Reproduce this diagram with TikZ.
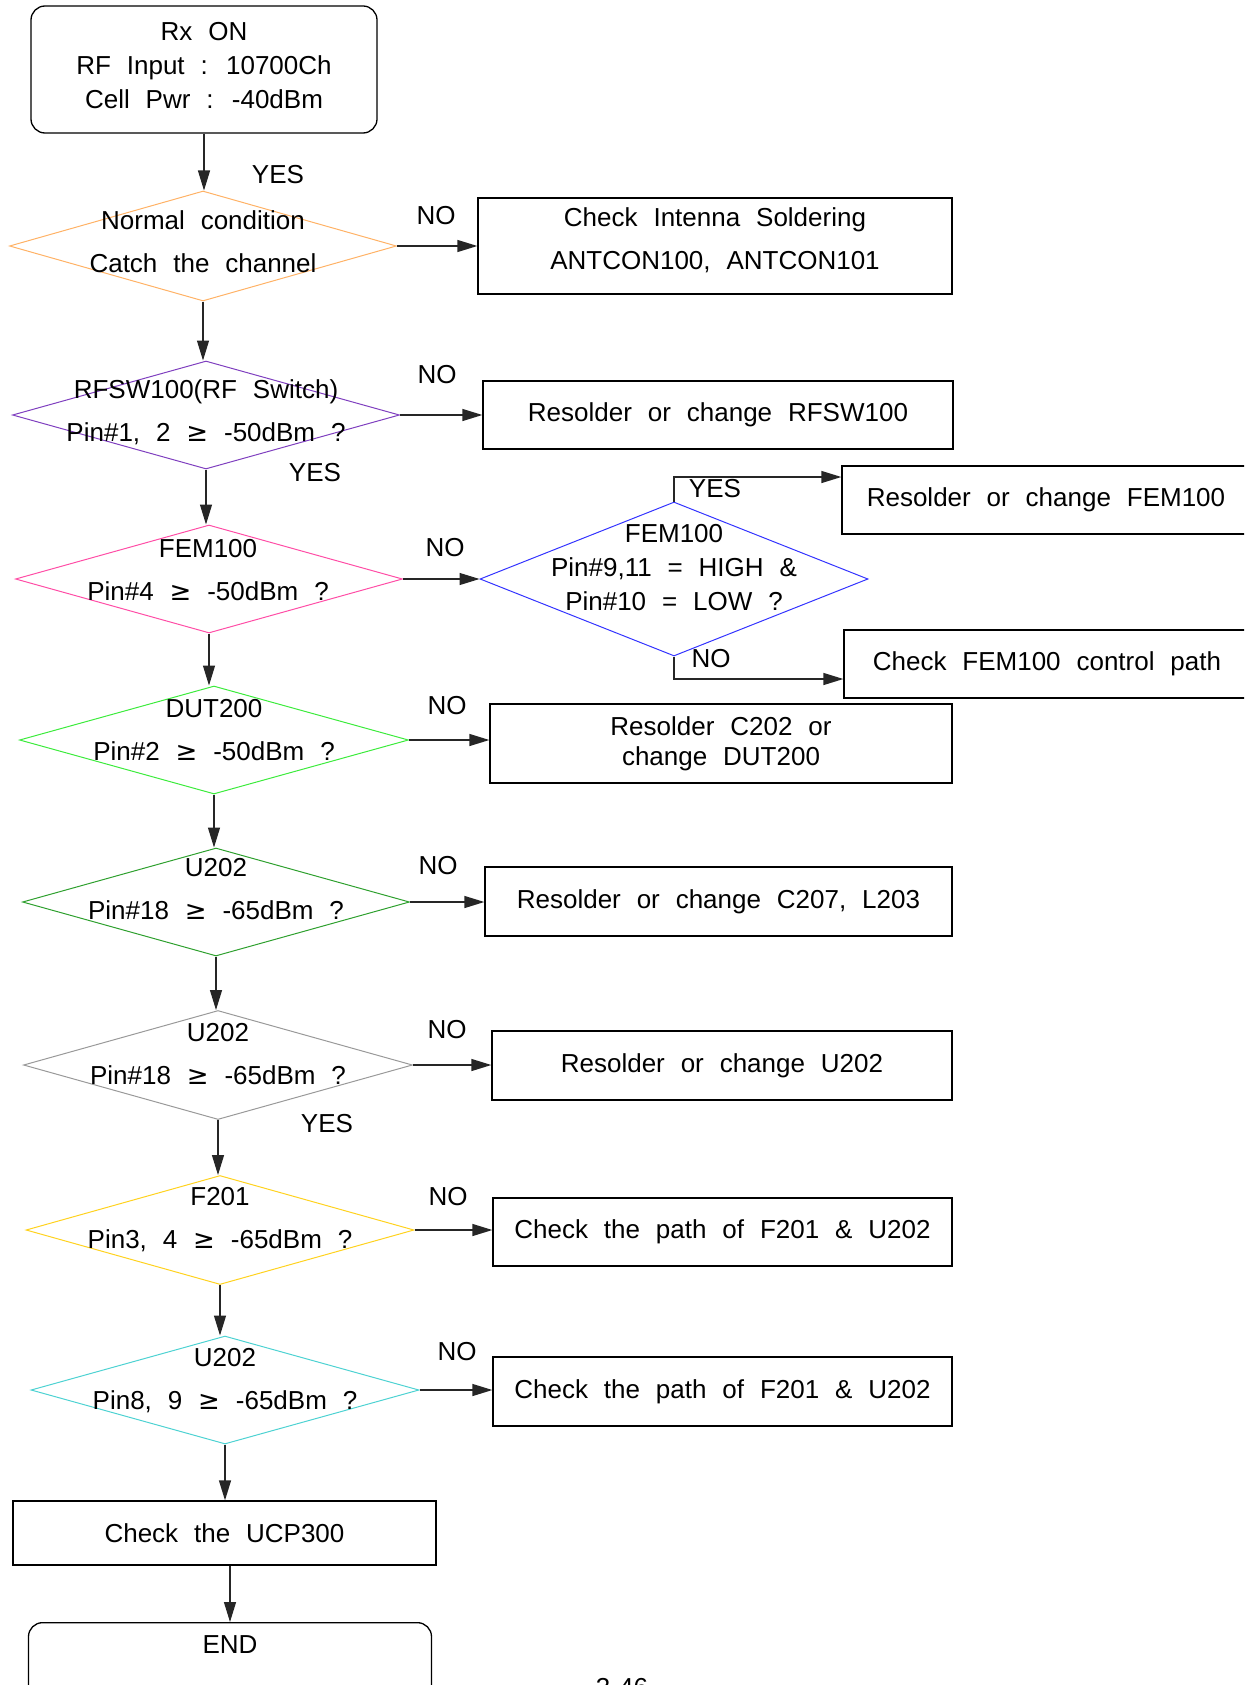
\documentclass[tikz,border=0pt]{standalone}
\usepackage{fontspec}
\setmainfont{Liberation Sans}[WordSpace=2.2]
\newfontfamily\symfont{DejaVu Sans}
\newcommand\gesign{{\symfont ≥}}
\usetikzlibrary{arrows.meta,shapes.geometric,calc}
\usepackage{xcolor}
\definecolor{dorange}{HTML}{FFB266}
\definecolor{dpurple}{HTML}{7F3FBF}
\definecolor{dpink}{HTML}{FF4DA6}
\definecolor{dblue}{HTML}{3333FF}
\definecolor{dlime}{HTML}{3CEB3C}
\definecolor{dgreen}{HTML}{2EA02E}
\definecolor{dgray}{HTML}{999999}
\definecolor{dyellow}{HTML}{FFD21F}
\definecolor{dcyan}{HTML}{4DD2D2}

\begin{document}
\begin{tikzpicture}[x=0.5pt, y=-0.5pt,
      txt/.style={font=\fontsize{13}{17}\selectfont, align=center, inner sep=0pt},
      wide/.style={font=\fontsize{13}{21.5}\selectfont},
      dia/.style={diamond, draw, line width=0.5pt, inner sep=0pt},
      chk/.style={draw, line width=0.65pt, font=\fontsize{13}{17}\selectfont, align=center},
      term/.style={chk, rounded corners=7pt},
      arr/.style={-{Triangle[length=10pt, width=6pt]}, line width=0.65pt, black!85}
    ]
      \useasboundingbox (0,0) rectangle (1244,1685);
      \clip (0,0) rectangle (1244,1685);

      % main column
      \node[term, minimum width=173pt, minimum height=63.5pt] (start) at (204,69.5) {};
      \node[txt] (startt) at (204,66) {Rx ON\\RF Input : 10700Ch\\Cell Pwr : -40dBm};

      \node[dia, draw=dorange, minimum width=193.5pt, minimum height=55pt] (cond) at (203,246) {};
      \node[txt, wide] (condt) at (203,241.5) {Normal condition\\Catch the channel};

      \node[dia, draw=dpurple, minimum width=193.5pt, minimum height=54pt] (rfsw) at (206,415) {};
      \node[txt, wide] (rfswt) at (206,412.5) {RFSW100(RF Switch)\\Pin\#1, 2 \gesign{} -50dBm ?};

      \node[dia, draw=dpink, minimum width=193.5pt, minimum height=54pt] (fema) at (209,579) {};
      \node[txt, wide] (femat) at (208,570.5) {FEM100\\Pin\#4 \gesign{} -50dBm ?};

      \node[dia, draw=dlime, minimum width=194.5pt, minimum height=54pt] (dut) at (214,740) {};
      \node[txt, wide] (dutt) at (214,730) {DUT200\\Pin\#2 \gesign{} -50dBm ?};

      \node[dia, draw=dgreen, minimum width=193.5pt, minimum height=54pt] (u202a) at (216,902) {};
      \node[txt, wide] (u202at) at (216,889.5) {U202\\Pin\#18 \gesign{} -65dBm ?};

      \node[dia, draw=dgray, minimum width=194.5pt, minimum height=54.5pt] (u202b) at (218,1065) {};
      \node[txt, wide] (u202bt) at (218,1054.5) {U202\\Pin\#18 \gesign{} -65dBm ?};

      \node[dia, draw=dyellow, minimum width=194pt, minimum height=54.5pt] (f201) at (220,1230) {};
      \node[txt, wide] (f201t) at (220,1220) {F201\\Pin3, 4 \gesign{} -65dBm ?};

      \node[dia, draw=dcyan, minimum width=194pt, minimum height=54pt] (u202c) at (225,1390) {};
      \node[txt, wide] (u202ct) at (225,1380.5) {U202\\Pin8, 9 \gesign{} -65dBm ?};

      \node[chk, minimum width=211.5pt, minimum height=32pt] (ucp) at (224.5,1533) {Check the UCP300};

      \node[term, minimum width=201.5pt, minimum height=40pt, anchor=north] (end) at (230,1622) {};
      \node[txt] (endt) at (230,1645) {END};

      % right column
      \node[chk, minimum width=237pt, minimum height=48pt] (chkant) at (715,246) {};
      \node[txt, wide] (chkantt) at (715,240.5) {Check Intenna Soldering\\ANTCON100, ANTCON101};
      \node[chk, minimum width=235pt, minimum height=34pt] (rsrfsw) at (718,415) {Resolder or change RFSW100};
      \node[dia, draw=dblue, minimum width=194pt, minimum height=77pt] (femb) at (674,579) {};
      \node[txt] (fembt) at (674,567.5) {FEM100\\Pin\#9,11 = HIGH \&\\Pin\#10 = LOW ?};
      \node[chk, minimum width=204pt, minimum height=34pt] (rsfem) at (1046,500) {Resolder or change FEM100};
      \node[chk, minimum width=203pt, minimum height=34pt] (femctl) at (1047,664) {Check FEM100 control path};
      \node[chk, minimum width=231pt, minimum height=39.5pt, font=\fontsize{13}{15}\selectfont] (rsdut) at (721,743.5) {Resolder C202 or\\change DUT200};
      \node[chk, minimum width=233.5pt, minimum height=34.5pt] (rsc207) at (718.5,901.5) {Resolder or change C207, L203};
      \node[chk, minimum width=230pt, minimum height=34.5pt] (rsu202) at (722,1065.5) {Resolder or change U202};
      \node[chk, minimum width=229.5pt, minimum height=34pt] (pathA) at (722.5,1232) {Check the path of F201 \& U202};
      \node[chk, minimum width=229.5pt, minimum height=34.5pt] (pathB) at (722.5,1391.5) {Check the path of F201 \& U202};

      % branch labels
      \node[txt] (yes1) at (278,175) {YES};
      \node[txt] (no1) at (436,216) {NO};
      \node[txt] (no2) at (437,375) {NO};
      \node[txt] (yes2) at (315,473) {YES};
      \node[txt] (no3) at (445,548) {NO};
      \node[txt] (yesb) at (715,489) {YES};
      \node[txt] (nob) at (711,659) {NO};
      \node[txt] (no4) at (447,706) {NO};
      \node[txt] (no5) at (438,866) {NO};
      \node[txt] (no6) at (447,1030) {NO};
      \node[txt] (yes6) at (327,1124) {YES};
      \node[txt] (no7) at (448,1197) {NO};
      \node[txt] (no8) at (457,1352) {NO};
      \node[txt] (page) at (622,1688) {3-46};

      % connectors
      \draw[arr] (start.south) -- (start.south |- cond.north);
      \draw[arr] (cond.south) -- (cond.south |- rfsw.north);
      \draw[arr] (rfsw.south) -- (rfsw.south |- fema.north);
      \draw[arr] (fema.south) -- (fema.south |- dut.north);
      \draw[arr] (dut.south) -- (dut.south |- u202a.north);
      \draw[arr] (u202a.south) -- (u202a.south |- u202b.north);
      \draw[arr] (u202b.south) -- (u202b.south |- f201.north);
      \draw[arr] (f201.south) -- (f201.south |- u202c.north);
      \draw[arr] (u202c.south) -- (u202c.south |- ucp.north);
      \draw[arr] (end.north |- ucp.south) -- (end.north);

      \draw[arr] (cond.east) -- (cond.east -| chkant.west);
      \draw[arr] (rfsw.east) -- (rfsw.east -| rsrfsw.west);
      \draw[arr] (fema.east) -- (femb.west);
      \draw[arr] (femb.north) |- ([yshift=11.5pt]rsfem.west);
      \draw[arr] (femb.south) |- ([yshift=-7.5pt]femctl.west);
      \draw[arr] (dut.east) -- (dut.east -| rsdut.west);
      \draw[arr] (u202a.east) -- (u202a.east -| rsc207.west);
      \draw[arr] (u202b.east) -- (u202b.east -| rsu202.west);
      \draw[arr] (f201.east) -- (f201.east -| pathA.west);
      \draw[arr] (u202c.east) -- (u202c.east -| pathB.west);
    \end{tikzpicture}
\end{document}
